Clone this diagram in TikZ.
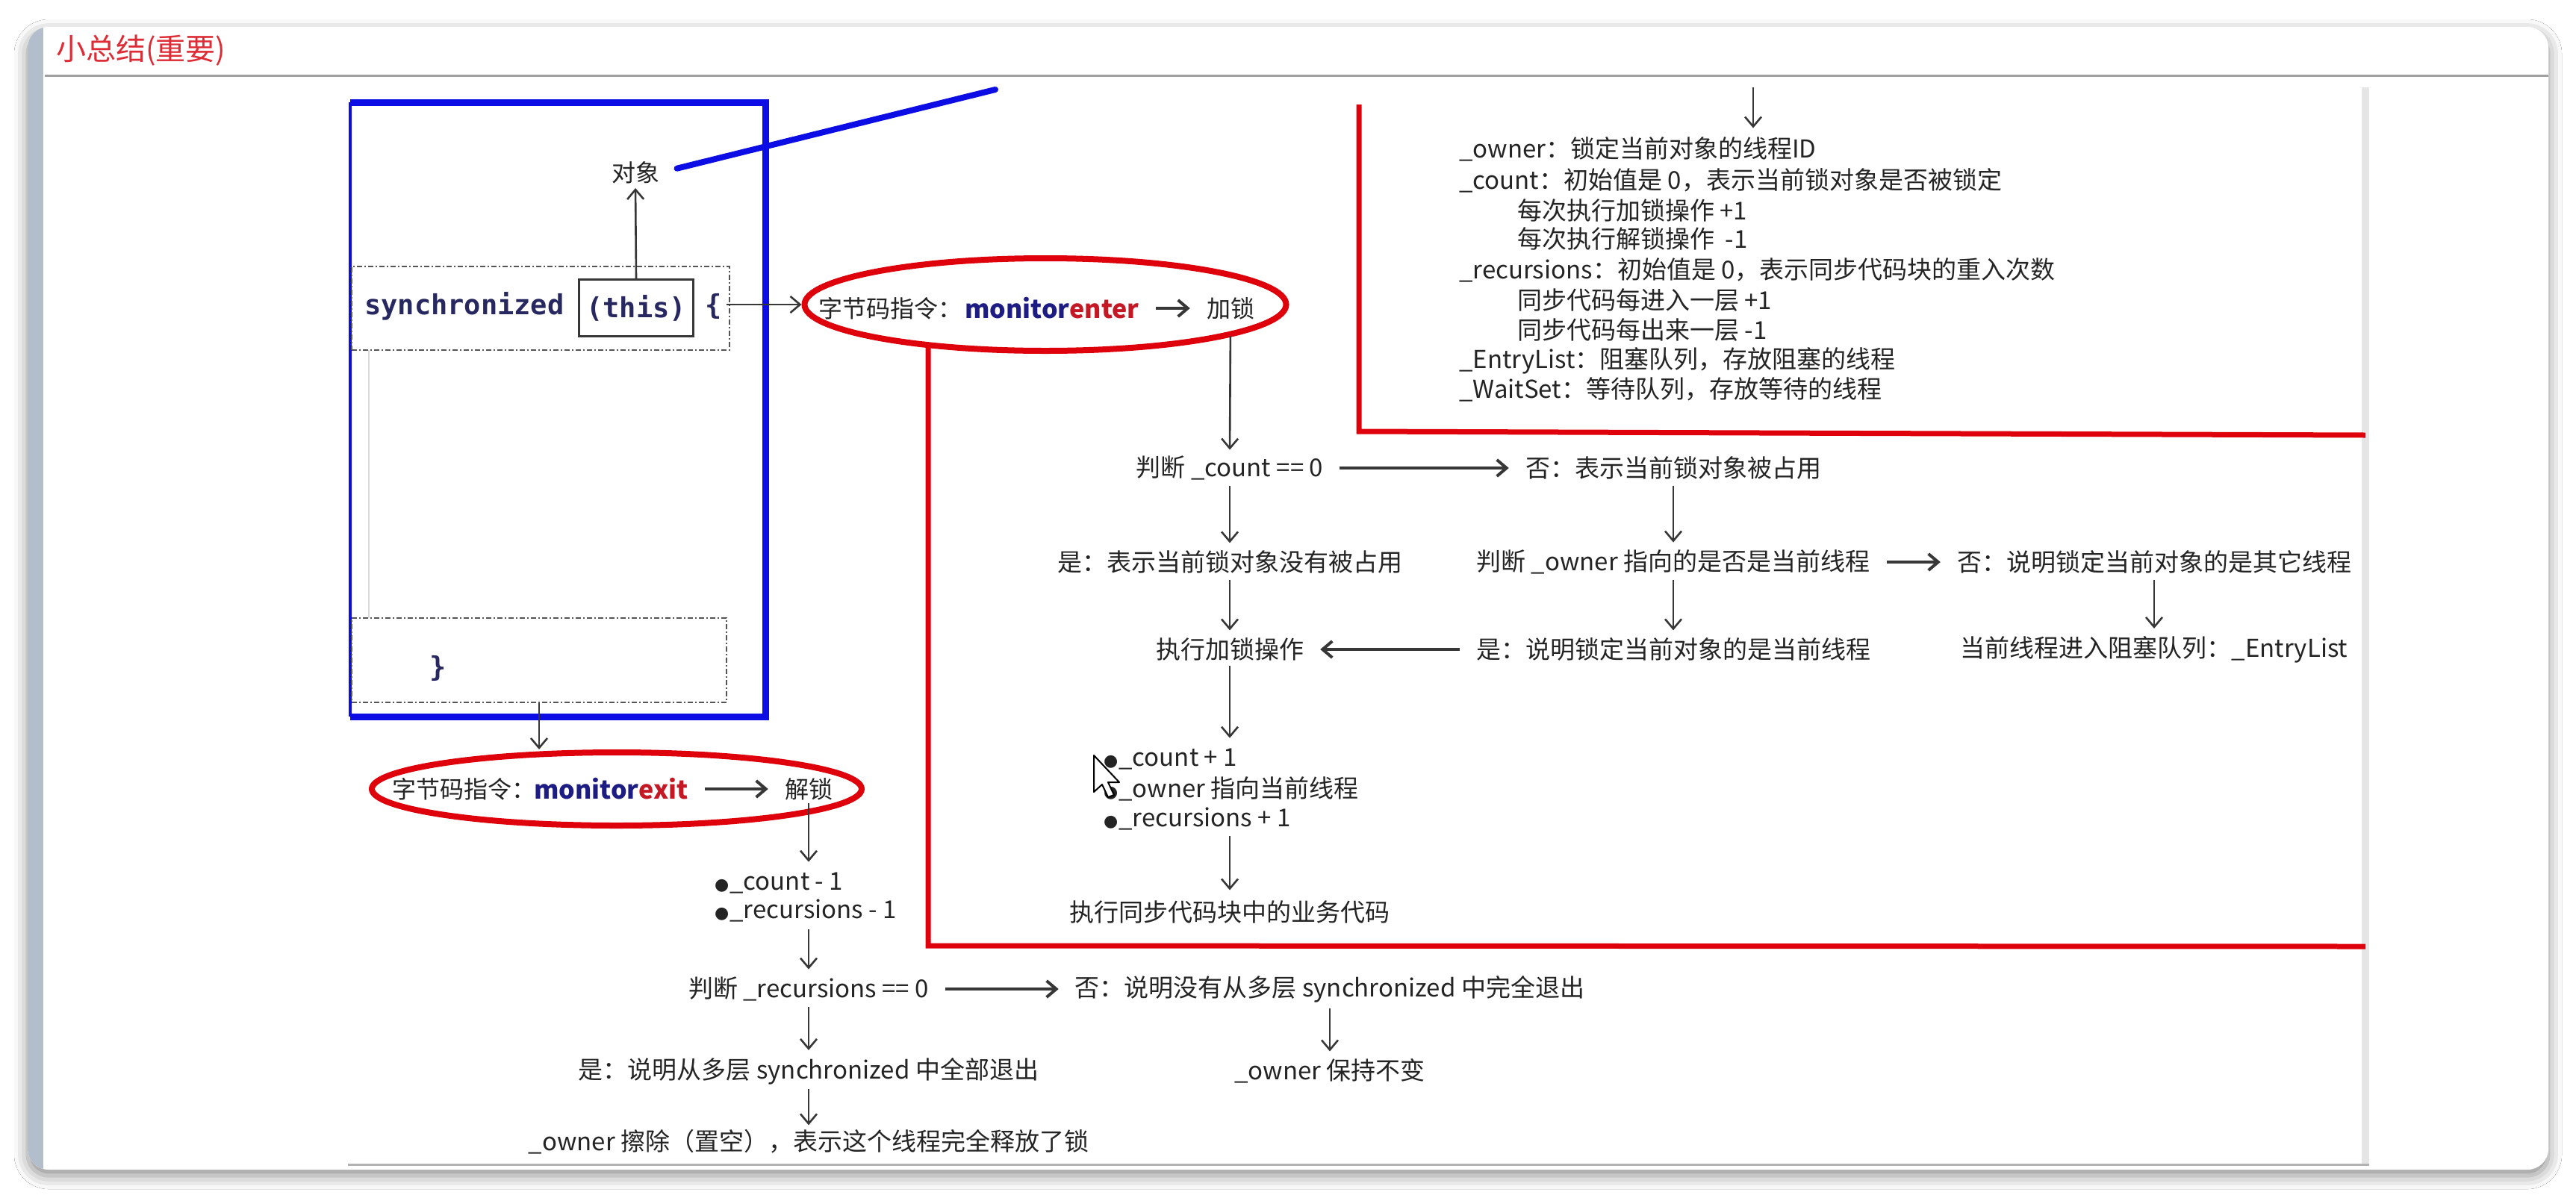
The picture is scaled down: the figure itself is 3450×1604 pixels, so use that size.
\documentclass[tikz,border=0pt]{standalone}
\usepackage{fontspec}
\setmainfont{Noto Sans CJK SC}
\newfontfamily\codefont{DejaVu Sans Mono}
\newfontfamily\dotfont{DejaVu Sans}
\usetikzlibrary{arrows.meta,shapes.geometric,shadows.blur,calc}

\definecolor{inkgray}{RGB}{36,36,36}
\definecolor{arrowgray}{RGB}{55,55,55}
\definecolor{boxblue}{RGB}{12,12,228}
\definecolor{markred}{RGB}{222,0,10}
\definecolor{opnavy}{RGB}{28,28,130}
\definecolor{opred}{RGB}{196,24,36}
\definecolor{codenavy}{RGB}{40,40,96}
\definecolor{titlered}{RGB}{222,44,54}
\definecolor{rulegray}{RGB}{160,160,160}
\definecolor{stripblue}{RGB}{178,190,204}
\definecolor{dashgray}{RGB}{85,85,85}

\newcommand{\dotmark}{{\dotfont\fontsize{22}{22}\selectfont ●}\hspace{1pt}}

\tikzset{
  txt/.style={font=\fontsize{33}{40}\selectfont, text=inkgray, inner sep=2pt},
  ovaltxt/.style={font=\fontsize{32}{38}\selectfont, text=inkgray, inner sep=2pt},
  codetxt/.style={font=\codefont\bfseries\fontsize{37}{40}\selectfont, text=codenavy, inner sep=0pt},
  arr/.style={draw=arrowgray, line width=2.6pt, -{Straight Barb[length=13pt,width=22pt]}},
  varr/.style={arr, shorten <=6pt, shorten >=8pt},
  harr/.style={arr, line width=4pt, shorten <=20pt, shorten >=20pt},
  opell/.style={ellipse, draw=markred, line width=8pt, inner sep=0pt},
  redline/.style={draw=markred, line width=7pt},
  dashbox/.style={draw=dashgray, line width=2.5pt, dash pattern=on 7pt off 3pt on 2pt off 3pt, inner sep=0pt},
}

\begin{document}
\begin{tikzpicture}[x=1pt, y=-1pt]
\useasboundingbox (0,0) rectangle (3450,1604);
\fill[white] (0,0) rectangle (3450,1604);

% window card with its shadow
\path[fill=white, rounded corners=28pt,
  blur shadow={shadow xshift=0pt, shadow yshift=-8pt, shadow blur radius=18pt, shadow opacity=45}]
  (37,36) rectangle (3413,1567);
\begin{scope}
  \clip[rounded corners=28pt] (37,36) rectangle (3413,1567);
  \fill[stripblue] (37,36) rectangle (58,1567);
\end{scope}

% heading
\node[anchor=west, text=titlered, font=\fontsize{40}{44}\selectfont, inner sep=0pt] (title) at (75,68) {小总结(重要)};
\draw[rulegray, line width=3pt] (60,101) -- (3413,101);

% frame of the embedded figure
\fill[black!10] (3163,117) rectangle (3173,1560);
\draw[black!30, line width=3pt] (466,1560) -- (3173,1560);

% red frames
\draw[redline] (1820,140) -- (1820,578) -- (3168,583);

% code block
\draw[boxblue, line width=9pt] (469,137) -- (1025,137) -- (1025,960) -- (469,960);
\draw[boxblue, line width=4pt] (469,137) -- (469,960);
\draw[black!15, line width=1.5pt] (494,469) -- (494,828);
\node[dashbox, minimum width=506pt, minimum height=112pt] (dashtop) at (724,413) {};
\node[dashbox, minimum width=502pt, minimum height=113pt] (dashbot) at (722,884.5) {};
\node[codetxt, anchor=base west] (sync) at (488,421) {synchronized};
\node[codetxt, draw=arrowgray, line width=3pt, minimum width=153pt, minimum height=76pt] (thisbox) at (852,412.5) {(this)};
\node[codetxt, anchor=base west] (brace) at (944,421) {\{};
\node[codetxt] (close) at (587,895) {\}};
\node[txt, font=\fontsize{32}{38}\selectfont] (obj) at (851,231) {对象};
\coordinate (blueEnd) at (1333,120);
\draw[boxblue, line width=8pt, line cap=round, shorten <=22pt] (obj.east) -- (blueEnd);
\draw[arr, shorten <=0pt, shorten >=4pt] (thisbox.north) -- (obj.south);

% monitorenter
\node[opell, minimum width=645pt, minimum height=124pt] (enterE) at (1400,408) {};
\node[ovaltxt, anchor=west] (bc1) at (1094,413) {字节码指令：};
\node[ovaltxt, anchor=west, font=\bfseries\fontsize{34}{38}\selectfont] (menter) at (1290,413) {\textcolor{opnavy}{monitor}\textcolor{opred}{enter}};
\node[ovaltxt] (jiasuo) at (1648,413) {加锁};
\draw[harr] (menter.east) -- (jiasuo.west);
\draw[arr] (brace.east |- enterE.west) ++(6,0) -- (enterE.west);
\draw[redline] (1243,466) -- (1243,1267) -- (3168,1268);

% monitor fields
\node[txt, anchor=west] (l1) at (1952,200) {\_owner：锁定当前对象的线程ID};
\node[txt, anchor=west] (l2) at (1952,242) {\_count：初始值是 0，表示当前锁对象是否被锁定};
\node[txt, anchor=west] (l3) at (2030,282) {每次执行加锁操作 +1};
\node[txt, anchor=west] (l4) at (2030,320) {每次执行解锁操作 \ -1};
\node[txt, anchor=west] (l5) at (1952,362) {\_recursions：初始值是 0，表示同步代码块的重入次数};
\node[txt, anchor=west] (l6) at (2030,402) {同步代码每进入一层 +1};
\node[txt, anchor=west] (l7) at (2030,442) {同步代码每出来一层 -1};
\node[txt, anchor=west] (l8) at (1952,483) {\_EntryList：阻塞队列，存放阻塞的线程};
\node[txt, anchor=west] (l9) at (1952,522) {\_WaitSet：等待队列，存放等待的线程};
\coordinate (topIn) at (2348,117);
\draw[arr, shorten >=10pt] (topIn) -- (topIn |- l1.north);

% locking flow
\node[txt] (cnt) at (1647,627) {判断 \_count == 0};
\node[txt] (no1) at (2241,627) {否：表示当前锁对象被占用};
\node[txt] (yes1) at (1647,753) {是：表示当前锁对象没有被占用};
\node[txt] (own) at (2241,753) {判断 \_owner 指向的是否是当前线程};
\node[txt] (no2) at (2885,753) {否：说明锁定当前对象的是其它线程};
\node[txt] (lockop) at (1647,870) {执行加锁操作};
\node[txt] (yes2) at (2241,870) {是：说明锁定当前对象的是当前线程};
\node[txt] (blk) at (2885,870) {当前线程进入阻塞队列：\_EntryList};
\node[txt, anchor=west] (b1) at (1476,1017) {\dotmark\_count + 1};
\node[txt, anchor=west] (b2) at (1476,1057) {\dotmark\_owner 指向当前线程};
\node[txt, anchor=west] (b3) at (1476,1097) {\dotmark\_recursions + 1};
\node[txt] (biz) at (1647,1222) {执行同步代码块中的业务代码};

\draw[arr, shorten <=20pt, shorten >=6pt] (jiasuo.south) -- (cnt.north);
\draw[harr] (cnt) -- (no1);
\draw[varr] (cnt) -- (yes1);
\draw[varr] (no1) -- (own);
\draw[harr] (own) -- (no2);
\draw[varr] (yes1) -- (lockop);
\draw[varr] (own) -- (yes2);
\draw[varr] (no2) -- (blk);
\draw[harr] (yes2) -- (lockop);
\draw[arr, shorten <=4pt, shorten >=12pt] (lockop.south) -- (lockop.south |- b1.north);
\draw[arr, shorten <=6pt, shorten >=12pt] (biz.north |- b3.south) -- (biz.north);

% pointer over the list
\draw[fill=white, draw=black, line width=2pt, line join=round]
  (1465,1012) -- (1465,1061) -- (1476,1051) -- (1484,1068) -- (1492,1065) -- (1484,1048) -- (1499,1048) -- cycle;

% monitorexit
\node[opell, minimum width=656pt, minimum height=98pt] (exitE) at (826,1057) {};
\node[ovaltxt, anchor=west] (bc2) at (523,1057) {字节码指令：};
\node[ovaltxt, anchor=west, font=\bfseries\fontsize{34}{38}\selectfont] (mexit) at (713,1057) {\textcolor{opnavy}{monitor}\textcolor{opred}{exit}};
\node[ovaltxt] (unlock) at (1083,1057) {解锁};
\draw[harr] (mexit.east) -- (unlock.west);
\draw[arr, shorten >=0pt] (dashbot.south) -- (dashbot.south |- exitE.north);

% unlocking flow
\node[txt, anchor=west] (c1) at (955,1183) {\dotmark\_count - 1};
\node[txt, anchor=west] (c2) at (955,1220) {\dotmark\_recursions - 1};
\node[txt] (rec0) at (1083,1325) {判断 \_recursions == 0};
\node[txt] (no3) at (1781,1325) {否：说明没有从多层 synchronized 中完全退出};
\node[txt] (yes3) at (1083,1435) {是：说明从多层 synchronized 中全部退出};
\node[txt] (keep) at (1781,1435) {\_owner 保持不变};
\node[txt] (clear) at (1083,1530) {\_owner 擦除（置空），表示这个线程完全释放了锁};

\draw[arr, shorten <=2pt, shorten >=12pt] (unlock.south) -- (unlock.south |- c1.north);
\draw[arr, shorten <=8pt, shorten >=8pt] (rec0.north |- c2.south) -- (rec0.north);
\draw[harr] (rec0) -- (no3);
\draw[varr] (rec0) -- (yes3);
\draw[varr] (no3) -- (keep);
\draw[arr, shorten <=4pt, shorten >=4pt] (yes3) -- (clear);
\end{tikzpicture}
\end{document}
